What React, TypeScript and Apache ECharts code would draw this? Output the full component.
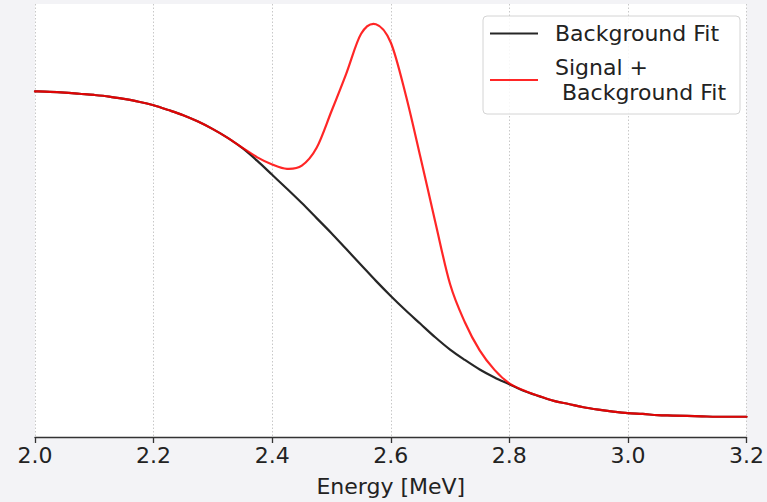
import React, { useEffect, useRef } from "react";
import * as echarts from "echarts";

// Energy grid (MeV), uniform 0.025 MeV steps, shared by both fitted curves
const energy = [
  2.0, 2.025, 2.05, 2.075, 2.1, 2.125, 2.15, 2.175, 2.2, 2.225, 2.25, 2.275,
  2.3, 2.325, 2.35, 2.375, 2.4, 2.425, 2.45, 2.475, 2.5, 2.525, 2.55, 2.575,
  2.6, 2.625, 2.65, 2.675, 2.7, 2.725, 2.75, 2.775, 2.8, 2.825, 2.85, 2.875,
  2.9, 2.925, 2.95, 2.975, 3.0, 3.025, 3.05, 3.075, 3.1, 3.125, 3.15, 3.175,
  3.2,
];

// Background-only fit (arbitrary units)
const backgroundFit = [
  87.0, 86.9, 86.7, 86.4, 86.1, 85.7, 85.1, 84.4, 83.5, 82.3, 81.0, 79.4,
  77.5, 75.3, 72.7, 69.5, 66.0, 62.5, 58.9, 55.1, 51.3, 47.3, 43.3, 39.3,
  35.5, 31.9, 28.5, 25.1, 22.0, 19.4, 17.0, 15.0, 13.3, 11.6, 10.3, 9.1,
  8.3, 7.5, 6.9, 6.4, 6.0, 5.8, 5.5, 5.4, 5.3, 5.2, 5.1, 5.1,
  5.1,
];

// Signal + background fit (arbitrary units)
const signalPlusBackgroundFit = [
  87.0, 86.9, 86.7, 86.4, 86.1, 85.7, 85.1, 84.4, 83.5, 82.3, 81.0, 79.4,
  77.5, 75.3, 72.8, 70.4, 68.6, 67.5, 68.3, 72.8, 82.0, 91.5, 101.5, 103.9,
  99.3, 86.3, 70.5, 54.2, 38.5, 28.9, 21.8, 16.9, 13.5, 11.7, 10.3, 9.1,
  8.3, 7.5, 6.9, 6.4, 6.0, 5.8, 5.5, 5.4, 5.3, 5.2, 5.1, 5.1,
  5.1,
];

const xTicks = [2.0, 2.2, 2.4, 2.6, 2.8, 3.0, 3.2];

const FONT = "DejaVu Sans";
const LEGEND_LINE = "path://M0,0 L48,0 L48,2 L0,2 Z";
const BLACK = "rgba(0,0,0,0.85)";
const RED = "rgba(255,0,0,0.85)";

// Smooth curve through the fitted points: Catmull-Rom segments written as
// cubic Béziers in pixel space (points mapped through the cartesian axes).
function curveSeries(name: string, ys: number[], color: string, z: number) {
  return {
    name,
    type: "custom",
    coordinateSystem: "cartesian2d",
    data: energy.map((x, i) => [x, ys[i]]),
    encode: { x: 0, y: 1 },
    itemStyle: { color },
    z,
    renderItem: (params: any, api: any) => {
      if (params.dataIndex !== 0) return null;
      const p = energy.map((x, i) => api.coord([x, ys[i]]) as number[]);
      const n = p.length;
      let d = `M${p[0][0]},${p[0][1]}`;
      for (let i = 0; i < n - 1; i++) {
        const p0 = p[Math.max(i - 1, 0)];
        const p1 = p[i];
        const p2 = p[i + 1];
        const p3 = p[Math.min(i + 2, n - 1)];
        const c1x = p1[0] + (p2[0] - p0[0]) / 6;
        const c1y = p1[1] + (p2[1] - p0[1]) / 6;
        const c2x = p2[0] - (p3[0] - p1[0]) / 6;
        const c2y = p2[1] - (p3[1] - p1[1]) / 6;
        d += ` C${c1x},${c1y} ${c2x},${c2y} ${p2[0]},${p2[1]}`;
      }
      return {
        type: "path",
        shape: { pathData: d },
        style: {
          fill: "none",
          stroke: color,
          lineWidth: 2.2,
          lineJoin: "round",
          lineCap: "round",
        },
      };
    },
  };
}

export default function App() {
  const ref = useRef<HTMLDivElement>(null);

  useEffect(() => {
    if (!ref.current) return;
    const chart = echarts.init(ref.current, null, { renderer: "svg" });

    chart.setOption({
      animation: false,
      backgroundColor: "#f3f3f6",
      textStyle: { fontFamily: FONT },
      grid: {
        left: 35,
        right: 18,
        top: 4,
        bottom: 62,
        show: true,
        backgroundColor: "#ffffff",
        borderWidth: 0,
      },
      legend: {
        orient: "vertical",
        left: 483,
        top: 16,
        padding: [5, 14, 9, 7],
        itemGap: 9,
        itemWidth: 48,
        itemHeight: 14,
        backgroundColor: "rgba(255,255,255,0.85)",
        borderColor: "#d4d4d4",
        borderWidth: 1,
        borderRadius: 4,
        textStyle: {
          fontFamily: FONT,
          fontSize: 22,
          color: "#222",
          lineHeight: 25,
          padding: [0, 0, 0, 12],
        },
        data: [
          { name: "Background Fit", icon: LEGEND_LINE },
          { name: "Signal +\n Background Fit", icon: LEGEND_LINE },
        ],
      },
      xAxis: {
        type: "value",
        min: 2.0,
        max: 3.2,
        interval: 0.2,
        name: "Energy [MeV]",
        nameLocation: "middle",
        nameGap: 38,
        nameTextStyle: { fontFamily: FONT, fontSize: 22, color: "#222" },
        axisLine: { show: true, lineStyle: { color: "#333", width: 1.3 } },
        axisTick: {
          show: true,
          inside: false,
          length: 6,
          lineStyle: { color: "#333", width: 1.3 },
        },
        axisLabel: {
          fontFamily: FONT,
          fontSize: 22,
          color: "#222",
          margin: 7,
          formatter: (v: number) => {
            const t = xTicks.find((k) => Math.abs(k - v) < 1e-6);
            return t !== undefined ? t.toFixed(1) : "";
          },
        },
        splitLine: {
          show: true,
          lineStyle: { color: "#c8c8c8", type: [1.5, 2], width: 1 },
        },
      },
      yAxis: {
        type: "value",
        min: 0,
        max: 109,
        show: false,
        splitLine: { show: false },
      },
      series: [
        curveSeries("Background Fit", backgroundFit, BLACK, 3),
        curveSeries("Signal +\n Background Fit", signalPlusBackgroundFit, RED, 4),
      ],
    });

    return () => chart.dispose();
  }, []);

  return (
    <div
      ref={ref}
      style={{ position: "fixed", left: 0, top: 0, width: 767, height: 502 }}
    />
  );
}
